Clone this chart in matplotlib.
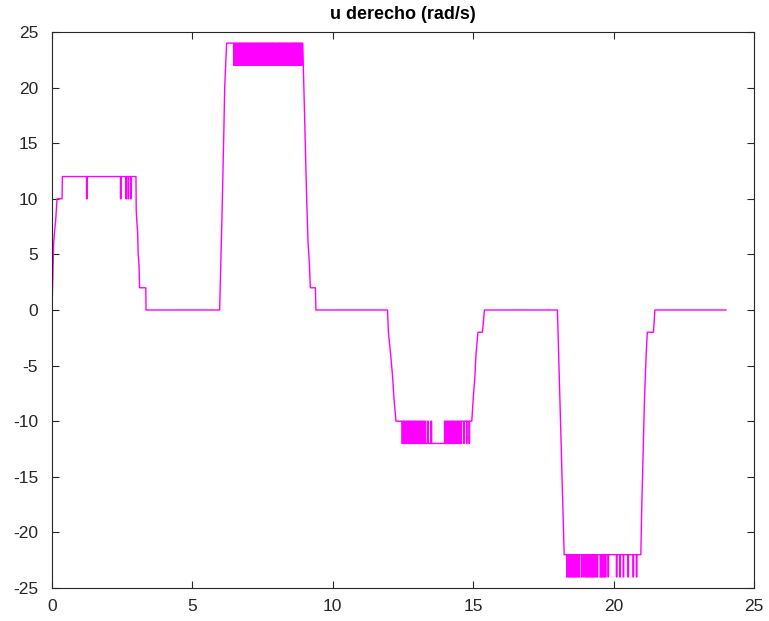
"""
senal de control de la rueda derecha (u derecho)
"""

import matplotlib
matplotlib.use('Agg')
import matplotlib.pyplot as plt

# tramos continuos: rampas y niveles (tiempo en s, u en rad/s)
t_tramo1 = [0.0, 0.02, 0.04, 0.06, 0.09, 0.13, 0.18, 0.36, 0.37,
            1.23, 1.23, 1.25, 1.25,
            2.44, 2.44, 2.46, 2.46,
            2.63, 2.63, 2.65, 2.65,
            2.71, 2.71, 2.73, 2.73,
            2.80, 2.80, 2.82, 2.82,
            2.99, 3.00, 3.02, 3.05, 3.07, 3.10, 3.12, 3.34, 3.35,
            5.97, 6.05, 6.12, 6.15, 6.22]
u_tramo1 = [0, 2, 4, 6, 7, 8, 10, 10, 12,
            12, 10, 10, 12,
            12, 10, 10, 12,
            12, 10, 10, 12,
            12, 10, 10, 12,
            12, 10, 10, 12,
            12, 9, 8, 7, 5, 4, 2, 2, 0,
            0, 8, 16, 20, 24]

t_tramo2 = [8.93, 8.97, 9.07, 9.12, 9.17, 9.20, 9.38, 9.40,
            11.95, 11.98, 12.06, 12.13, 12.18, 12.25, 12.45]
u_tramo2 = [24, 20, 10, 6, 4, 2, 2, 0,
            0, -2, -4, -6, -8, -10, -10]

t_tramo3 = [14.95, 15.00, 15.06, 15.10, 15.17, 15.33, 15.40,
            18.00, 18.24, 18.30]
u_tramo3 = [-10, -8, -6, -4, -2, -2, 0,
            0, -22, -22]

t_tramo4 = [20.97, 21.00, 21.06, 21.10, 21.13, 21.16, 21.20, 21.42, 21.47,
            24.0]
u_tramo4 = [-22, -18, -12, -8, -6, -4, -2, -2, 0,
            0]

# instantes de conmutacion en saturacion (chattering)
conm_sat1 = [6.47, 6.50, 6.53, 6.56, 6.59, 6.62, 6.65, 6.68, 6.71, 6.74,
             6.78, 6.81, 6.84, 6.87, 6.90, 6.93, 6.96, 6.99, 7.02, 7.05,
             7.08, 7.11, 7.14, 7.18, 7.21, 7.24, 7.27, 7.30, 7.33, 7.36,
             7.39, 7.42, 7.46, 7.49, 7.52, 7.55, 7.58, 7.61, 7.64, 7.67,
             7.70, 7.73, 7.76, 7.79, 7.82, 7.85, 7.88, 7.91, 7.94, 7.98,
             8.01, 8.04, 8.07, 8.10, 8.13, 8.16, 8.20, 8.23, 8.26, 8.29,
             8.32, 8.35, 8.38, 8.41, 8.44, 8.48, 8.51, 8.54, 8.57, 8.60,
             8.63, 8.66, 8.69, 8.72, 8.75, 8.78, 8.81, 8.84, 8.87, 8.90]
niveles_sat1 = (24, 22)

conm_sat2 = [12.46, 12.49, 12.52, 12.55, 12.58, 12.61, 12.64, 12.67, 12.70,
             12.73, 12.76, 12.79, 12.82, 12.85, 12.88, 12.91, 12.94, 12.97,
             13.00, 13.03, 13.06, 13.09, 13.12, 13.15, 13.18, 13.21, 13.24,
             13.27, 13.30,
             13.37, 13.40, 13.49, 13.52,
             13.98, 14.01, 14.04, 14.07, 14.10, 14.13, 14.16, 14.19, 14.22,
             14.25, 14.28, 14.31, 14.34, 14.37, 14.40, 14.43, 14.46, 14.49,
             14.52, 14.55, 14.58,
             14.66, 14.68, 14.76, 14.78, 14.85, 14.87]
niveles_sat2 = (-10, -12)

conm_sat3 = [18.33, 18.36, 18.39, 18.42, 18.45, 18.48, 18.51, 18.54, 18.57,
             18.60, 18.63, 18.66, 18.69, 18.72, 18.75, 18.78,
             18.85, 18.87, 18.92, 18.94,
             18.98, 19.01, 19.04, 19.07, 19.10, 19.13, 19.16, 19.19, 19.22,
             19.25, 19.28, 19.31, 19.34, 19.37, 19.40, 19.43,
             19.52, 19.55, 19.58, 19.61, 19.64, 19.67, 19.70, 19.73,
             19.80, 19.82,
             20.10, 20.12, 20.22, 20.24, 20.34, 20.36,
             20.51, 20.53, 20.69, 20.71, 20.81, 20.83]
niveles_sat3 = (-22, -24)


def escalones(instantes, niveles):
    """
    convierte los instantes de conmutacion en una linea escalonada
    """
    nivel, otro = niveles
    t, u = [], []
    for s in instantes:
        t += [s, s]
        u += [nivel, otro]
        nivel, otro = otro, nivel
    return t, u


def main():
    plt.rcParams['font.family'] = ['Liberation Sans', 'DejaVu Sans']
    plt.rcParams['axes.unicode_minus'] = False

    t, u = list(t_tramo1), list(u_tramo1)
    for conm, niv, (tt, uu) in [(conm_sat1, niveles_sat1, (t_tramo2, u_tramo2)),
                                (conm_sat2, niveles_sat2, (t_tramo3, u_tramo3)),
                                (conm_sat3, niveles_sat3, (t_tramo4, u_tramo4))]:
        ts, us = escalones(conm, niv)
        t += ts + list(tt)
        u += us + list(uu)

    gris = (0.15, 0.15, 0.15)
    fig = plt.figure(figsize=(7.69, 6.21), dpi=100)
    ax = fig.add_axes([0.0676, 0.0531, 0.9129, 0.8954])
    ax.plot(t, u, color=(1, 0, 1), linewidth=1.0)
    ax.set_xlim(0, 25)
    ax.set_ylim(-25, 25)
    ax.set_xticks(range(0, 26, 5))
    ax.set_yticks(range(-25, 26, 5))
    ax.tick_params(direction='in', top=True, right=True, length=5,
                   width=0.8, colors=gris, labelsize=12.5)
    ax.tick_params(axis='x', pad=8)
    ax.tick_params(axis='y', pad=10)
    for lado in ax.spines.values():
        lado.set_color(gris)
        lado.set_linewidth(0.8)
    ax.set_title('u derecho (rad/s)', fontsize=13, fontweight='bold',
                 color='black', pad=9)
    fig.savefig('out.png', dpi=100)


if __name__ == '__main__':
    main()
